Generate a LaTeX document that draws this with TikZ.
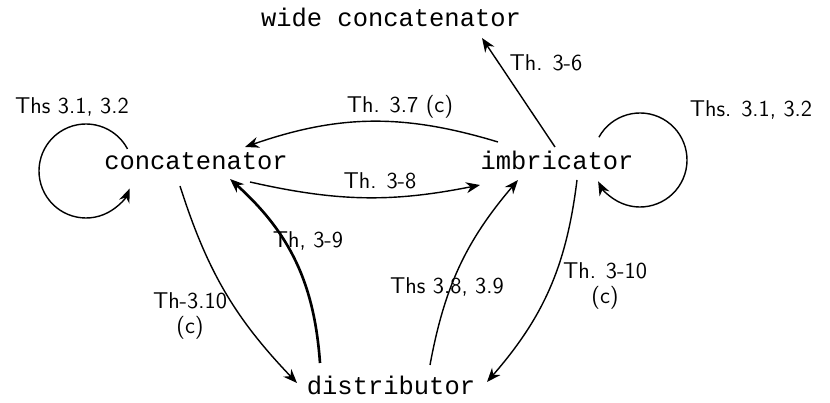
\documentclass[tikz,border=0pt]{standalone}
\usepackage{fontspec}
\setmonofont{Liberation Mono}
\usetikzlibrary{arrows.meta, positioning, calc}
\tikzset{
  term/.style={font=\fontsize{14.5}{16}\selectfont\ttfamily, inner sep=1pt},
  thm/.style={font=\fontsize{13}{14}\selectfont\sffamily, inner sep=1pt, align=center},
  arrow/.style={-{Stealth[length=0.28cm, width=0.22cm]}, line width=0.8pt, color=black},
  boldarrow/.style={arrow, line width=1.5pt}
}

\begin{document}
\begin{tikzpicture}
  \useasboundingbox (0,0) rectangle (16.6,8.06);

  % Terms
  \node[term] (wide) at (7.82,7.72) {wide concatenator};
  \node[term] (conc) at (3.92,4.84) {concatenator};
  \node[term] (imb)  at (11.14,4.86) {imbricator};
  \node[term] (dist) at (7.82,0.36) {distributor};

  % Loop centres
  \coordinate (lpl) at (1.72,4.64);
  \coordinate (lpr) at (12.80,4.86);

  % Self loops
  \draw[arrow] ([shift={(28:0.94)}]lpl) arc[start angle=28, end angle=338, radius=0.94];
  \draw[arrow] ([shift={(151:0.94)}]lpr) arc[start angle=151, end angle=-153, radius=0.94];
  \node[thm] (tl) at (1.44,5.92) {Ths 3.1, 3.2};
  \node[thm] (tr) at (15.02,5.86) {Ths. 3.1, 3.2};

  % Top row
  \draw[arrow] ([shift={(-0.04,0.26)}]imb.center) -- ([shift={(1.82,-0.42)}]wide.center);
  \node[thm] (t36) at (10.92,6.80) {Th. 3-6};
  \draw[arrow] ([shift={(-1.18,0.36)}]imb.center) to[bend right=18] ([shift={(0.98,0.28)}]conc.center);
  \node[thm] (t37) at (8.00,5.92) {Th. 3.7 (c)};
  \draw[arrow] ([shift={(1.08,-0.42)}]conc.center) to[bend right=12] ([shift={(-1.54,-0.50)}]imb.center);
  \node[thm] (t38) at (7.60,4.44) {Th. 3-8};

  % Down to distributor
  \draw[arrow] ([shift={(-0.32,-0.50)}]conc.center) to[bend right=13] ([shift={(-1.88,0.04)}]dist.center);
  \node[thm] (t310l) at (3.80,1.74) {Th-3.10\\(c)};
  \draw[boldarrow] ([shift={(-1.42,0.44)}]dist.center) to[bend right=22] ([shift={(0.68,-0.36)}]conc.center);
  \node[thm] (t39) at (6.16,3.24) {Th, 3-9};
  \draw[arrow] ([shift={(0.78,0.40)}]dist.center) to[bend left=15] ([shift={(-0.78,-0.40)}]imb.center);
  \node[thm] (t389) at (8.94,2.32) {Ths 3.8, 3.9};
  \draw[arrow] ([shift={(0.40,-0.40)}]imb.center) to[bend left=17] ([shift={(1.92,0.06)}]dist.center);
  \node[thm] (t310r) at (12.10,2.34) {Th. 3-10\\(c)};
\end{tikzpicture}
\end{document}
